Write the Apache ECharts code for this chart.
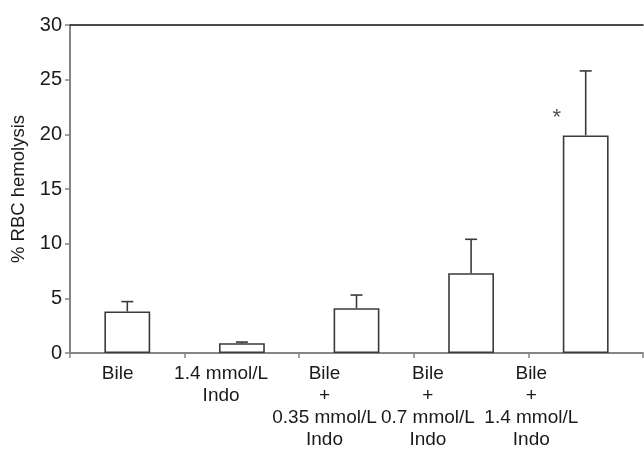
<!DOCTYPE html>
<html>
<head>
<meta charset="utf-8">
<style>
  html, body { margin: 0; padding: 0; background: #fff; }
  #chart { width: 644px; height: 451px; }
</style>
<script src="https://cdn.jsdelivr.net/npm/echarts@6/dist/echarts.min.js"></script>
</head>
<body>
<div id="chart"></div>
<script>
// Treatment groups shown along the x axis
var categories = [
  'Bile',
  '1.4 mmol/L\nIndo',
  'Bile\n+\n0.35 mmol/L\nIndo',
  'Bile\n+\n0.7 mmol/L\nIndo',
  'Bile\n+\n1.4 mmol/L\nIndo'
];
// Mean hemolysis (%) and upper error (mean + SD)
var meanValues = [3.8, 0.9, 4.1, 7.3, 19.9];
var upperValues = [4.7, 1.0, 5.3, 10.4, 25.8];
// Significance marker
var markers = [{ index: 4, value: 21.5, text: '*' }];
// Y axis ticks
var yTicks = { min: 0, max: 30, interval: 5 };

var fontFamily = '"Liberation Sans", Arial, Helvetica, sans-serif';
var axisGray = '#858585';
var chart = echarts.init(document.getElementById('chart'), null, { renderer: 'canvas' });

var errorData = meanValues.map(function (v, i) { return [i, v, upperValues[i]]; });

chart.setOption({
  animation: false,
  grid: [
    { left: 70, right: 1, top: 25, bottom: 98, containLabel: false },
    // narrower band that carries the group captions under the bars
    { left: 66, right: 61, top: 25, bottom: 95, containLabel: false }
  ],
  xAxis: [{
    type: 'category',
    gridIndex: 0,
    data: categories,
    axisLine: { lineStyle: { color: axisGray, width: 2 } },
    axisTick: { show: true, alignWithLabel: false, length: 5, lineStyle: { color: axisGray, width: 1.5 } },
    axisLabel: { show: false }
  }, {
    type: 'category',
    gridIndex: 0,
    position: 'top',
    data: categories,
    axisLine: { show: true, lineStyle: { color: '#111', width: 1.5 } },
    axisTick: { show: false },
    axisLabel: { show: false }
  }, {
    type: 'category',
    gridIndex: 1,
    data: categories,
    axisLine: { show: false },
    axisTick: { show: false },
    axisLabel: {
      color: '#1a1a1a', fontSize: 19, fontFamily: fontFamily,
      lineHeight: 22, margin: 8, interval: 0, align: 'center'
    }
  }],
  yAxis: [{
    type: 'value',
    gridIndex: 0,
    min: yTicks.min, max: yTicks.max, interval: yTicks.interval,
    name: '% RBC hemolysis',
    nameLocation: 'middle',
    nameGap: 42,
    nameRotate: 90,
    nameTextStyle: { color: '#1a1a1a', fontSize: 18.5, fontFamily: fontFamily },
    axisLine: { show: true, lineStyle: { color: axisGray, width: 2 } },
    axisTick: { show: true, length: 5, lineStyle: { color: axisGray, width: 1.5 } },
    axisLabel: { color: '#1a1a1a', fontSize: 20, fontFamily: fontFamily, margin: 8 },
    splitLine: { show: false }
  }, {
    type: 'value',
    gridIndex: 1,
    min: yTicks.min, max: yTicks.max,
    show: false
  }],
  series: [{
    type: 'bar',
    data: meanValues,
    barWidth: '40%',
    itemStyle: { color: '#fff', borderColor: '#3a3a3a', borderWidth: 1.6 },
    z: 3
  }, {
    type: 'custom',
    data: errorData,
    z: 2,
    renderItem: function (params, api) {
      var x = api.value(0);
      var base = api.coord([x, api.value(1)]);
      var top = api.coord([x, api.value(2)]);
      var cap = 6;
      var style = { stroke: '#3a3a3a', lineWidth: 1.6 };
      return {
        type: 'group',
        children: [
          { type: 'line', shape: { x1: base[0], y1: base[1], x2: top[0], y2: top[1] }, style: style },
          { type: 'line', shape: { x1: top[0] - cap, y1: top[1], x2: top[0] + cap, y2: top[1] }, style: style }
        ]
      };
    }
  }, {
    type: 'scatter',
    symbolSize: 0,
    data: markers.map(function (m) { return [m.index, m.value, m.text]; }),
    label: {
      show: true,
      position: 'inside',
      offset: [-29, 0],
      formatter: function (p) { return p.value[2]; },
      color: '#222', fontSize: 22, fontFamily: fontFamily
    },
    z: 4
  }]
});
</script>
</body>
</html>
